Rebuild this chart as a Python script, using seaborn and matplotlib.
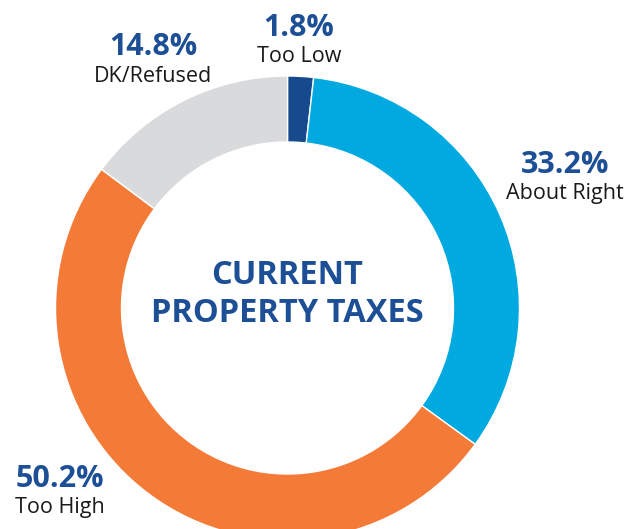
import matplotlib.pyplot as plt
import seaborn as sns

# Dados do gráfico (percentuais)
categorias = ["Too Low", "About Right", "Too High", "DK/Refused"]
valores = [1.8, 33.2, 50.2, 14.8]
rotulos_pct = ["1.8%", "33.2%", "50.2%", "14.8%"]
cores = ["#174a8c", "#00a9e0", "#f47a38", "#d9dadc"]
titulo_centro = ["CURRENT", "PROPERTY TAXES"]

sns.set_theme(style="white")
plt.rcParams["font.family"] = ["Open Sans", "DejaVu Sans"]

azul_texto = "#1d4f96"

fig = plt.figure(figsize=(6.28, 5.29), dpi=100)
ax = fig.add_axes([0, 0, 1, 1])

# Rosca
ax.pie(
    valores,
    colors=cores,
    startangle=90,
    counterclock=False,
    center=(287.5, 221),
    radius=232,
    wedgeprops=dict(width=66, edgecolor="white", linewidth=1),
    frame=True,
)
ax.set_xlim(0, 628)
ax.set_ylim(0, 529)
ax.set_aspect("equal")
ax.axis("off")

# Posições dos rótulos (x, y em pixels a partir do topo)
pos_rotulos = {
    "Too Low": (299, 28),
    "About Right": (565, 165),
    "Too High": (60, 479),
    "DK/Refused": (153, 47),
}
for cat, pct in zip(categorias, rotulos_pct):
    x, y = pos_rotulos[cat]
    ax.text(x, 529 - y, pct, ha="center", va="center", fontsize=22,
            fontweight="bold", color=azul_texto)
    ax.text(x, 529 - y - 29, cat, ha="center", va="center", fontsize=15.5,
            color="#1a1a1a")

# Texto central
ax.text(287, 529 - 276, titulo_centro[0], ha="center", va="center",
        fontsize=23.5, fontweight="bold", color=azul_texto)
ax.text(287, 529 - 313, titulo_centro[1], ha="center", va="center",
        fontsize=23.5, fontweight="bold", color=azul_texto)

fig.savefig("out.png", dpi=100)
plt.close(fig)
